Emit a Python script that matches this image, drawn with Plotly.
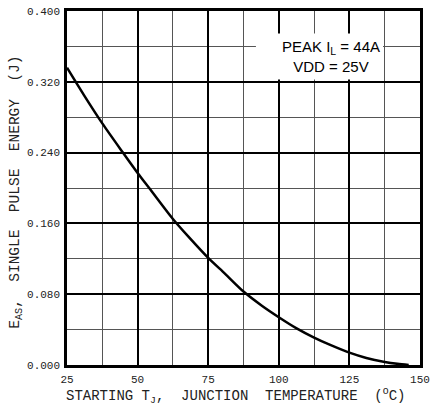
import plotly.graph_objects as go

# Data
temp_c = [25, 31, 37.5, 44.8, 50, 54.1, 62.5, 68, 75, 81, 87.5, 94, 100, 106, 112.5, 118, 125, 131, 137.5, 142, 146]
energy_j = [0.336, 0.305, 0.273, 0.240, 0.217, 0.200, 0.165, 0.145, 0.121, 0.103, 0.083, 0.067, 0.054, 0.042,
            0.031, 0.023, 0.014, 0.008, 0.0035, 0.0013, 0.0]

x_ticks = [25, 50, 75, 100, 125, 150]
y_ticks = [0.0, 0.08, 0.16, 0.24, 0.32, 0.40]
y_tick_text = ["0.000", "0.080", "0.160", "0.240", "0.320", "0.400"]

mono = "Liberation Mono"

fig = go.Figure()
fig.add_trace(go.Scatter(
    x=temp_c, y=energy_j, mode="lines",
    line=dict(color="black", width=2.5, shape="spline", smoothing=0.8),
    showlegend=False, hoverinfo="skip"))

axis_common = dict(
    showline=True, linecolor="black", linewidth=2.5, mirror=True,
    showgrid=True, gridcolor="black", gridwidth=2,
    zeroline=False, ticks="", automargin=False,
    tickfont=dict(family=mono, size=11, color="#222"),
)

fig.update_xaxes(range=[25, 150], tickvals=x_ticks, ticklabelstandoff=2,
                 minor=dict(dtick=12.5, tick0=25, showgrid=True, gridcolor="#555", gridwidth=1, ticks=""),
                 **axis_common)
fig.update_yaxes(range=[0, 0.4], tickvals=y_ticks, ticktext=y_tick_text, ticklabelstandoff=2,
                 minor=dict(dtick=0.04, tick0=0, showgrid=True, gridcolor="#555", gridwidth=1, ticks=""),
                 **axis_common)

# White box behind the annotation text
fig.add_shape(type="rect", xref="x", yref="y", x0=91.9, x1=136.9, y0=0.3225, y1=0.3745,
              fillcolor="white", line=dict(width=0), layer="above")

fig.add_annotation(xref="paper", yref="paper", x=0.748, y=0.872, xanchor="center", yanchor="middle",
                   text="PEAK I<sub>L</sub> = 44A<br>VDD = 25V", showarrow=False, align="center",
                   font=dict(family="Liberation Sans", size=15, color="black"))

fig.add_annotation(xref="paper", yref="paper", x=0.477, y=-0.088, xanchor="center", yanchor="middle",
                   text="STARTING T<sub>J</sub>,  JUNCTION  TEMPERATURE  (<sup>O</sup>C)", showarrow=False,
                   font=dict(family=mono, size=14, color="#222"))

fig.add_annotation(xref="paper", yref="paper", x=-0.145, y=0.489, xanchor="center", yanchor="middle",
                   text="E<sub>AS</sub>,  SINGLE  PULSE  ENERGY  (J)", showarrow=False, textangle=-90,
                   font=dict(family=mono, size=14.5, color="#222"))

fig.update_layout(
    width=432, height=407, autosize=False,
    margin=dict(l=67, r=12, t=11, b=42),
    paper_bgcolor="white", plot_bgcolor="white",
)

fig.write_html("out.html", config={"displayModeBar": False, "responsive": False},
               post_script="document.body.style.margin='0';document.body.style.padding='0';")
